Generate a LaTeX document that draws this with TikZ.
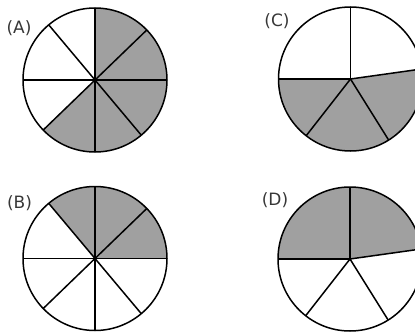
\documentclass[tikz,border=0pt]{standalone}
\usepackage{fontspec}
\setmainfont{DejaVu Sans}
\definecolor{piegray}{RGB}{160,160,160}
\definecolor{labelgray}{RGB}{55,55,55}

\begin{document}
\begin{tikzpicture}[x=1pt,y=1pt,
    rim/.style={line width=1.5pt},
    spoke/.style={line width=1.5pt},
    tag/.style={font=\fontsize{17}{17}\selectfont, text=labelgray, inner sep=0pt}]
      \clip (0,0) rectangle (415,333);
      \coordinate (A) at (95,253);
      \coordinate (B) at (95,74.5);
      \coordinate (C) at (350.5,254);
      \coordinate (D) at (350,74);
      % (A): eighths
      \fill[piegray] (A) -- ++(224:72) arc[start angle=224, end angle=450, radius=72] -- cycle;
      \foreach \a in {44,90,130,180,224,270,310,360} \draw[spoke] (A) -- ++(\a:72);
      \draw[rim] (A) circle[radius=72];
      % (B): eighths
      \fill[piegray] (B) -- ++(0:72) arc[start angle=0, end angle=130, radius=72] -- cycle;
      \foreach \a in {44,90,130,180,224,270,310,360} \draw[spoke] (B) -- ++(\a:72);
      \draw[rim] (B) circle[radius=72];
      % (C): top quarters, bottom thirds
      \fill[piegray] (C) -- ++(180:72) arc[start angle=180, end angle=368, radius=72] -- cycle;
      \foreach \a in {8,90,180,232,302} \draw[spoke] (C) -- ++(\a:72);
      \draw[rim] (C) circle[radius=72];
      % (D)
      \fill[piegray] (D) -- ++(8:72) arc[start angle=8, end angle=180, radius=72] -- cycle;
      \foreach \a in {8,90,180,232,302} \draw[spoke] (D) -- ++(\a:72);
      \draw[rim] (D) circle[radius=72];
      \node[tag] (labA) at (19,304.7) {(A)};
      \node[tag] (labB) at (19.5,129.7) {(B)};
      \node[tag] (labC) at (277,312.2) {(C)};
      \node[tag] (labD) at (275,133) {(D)};
    \end{tikzpicture}
\end{document}
